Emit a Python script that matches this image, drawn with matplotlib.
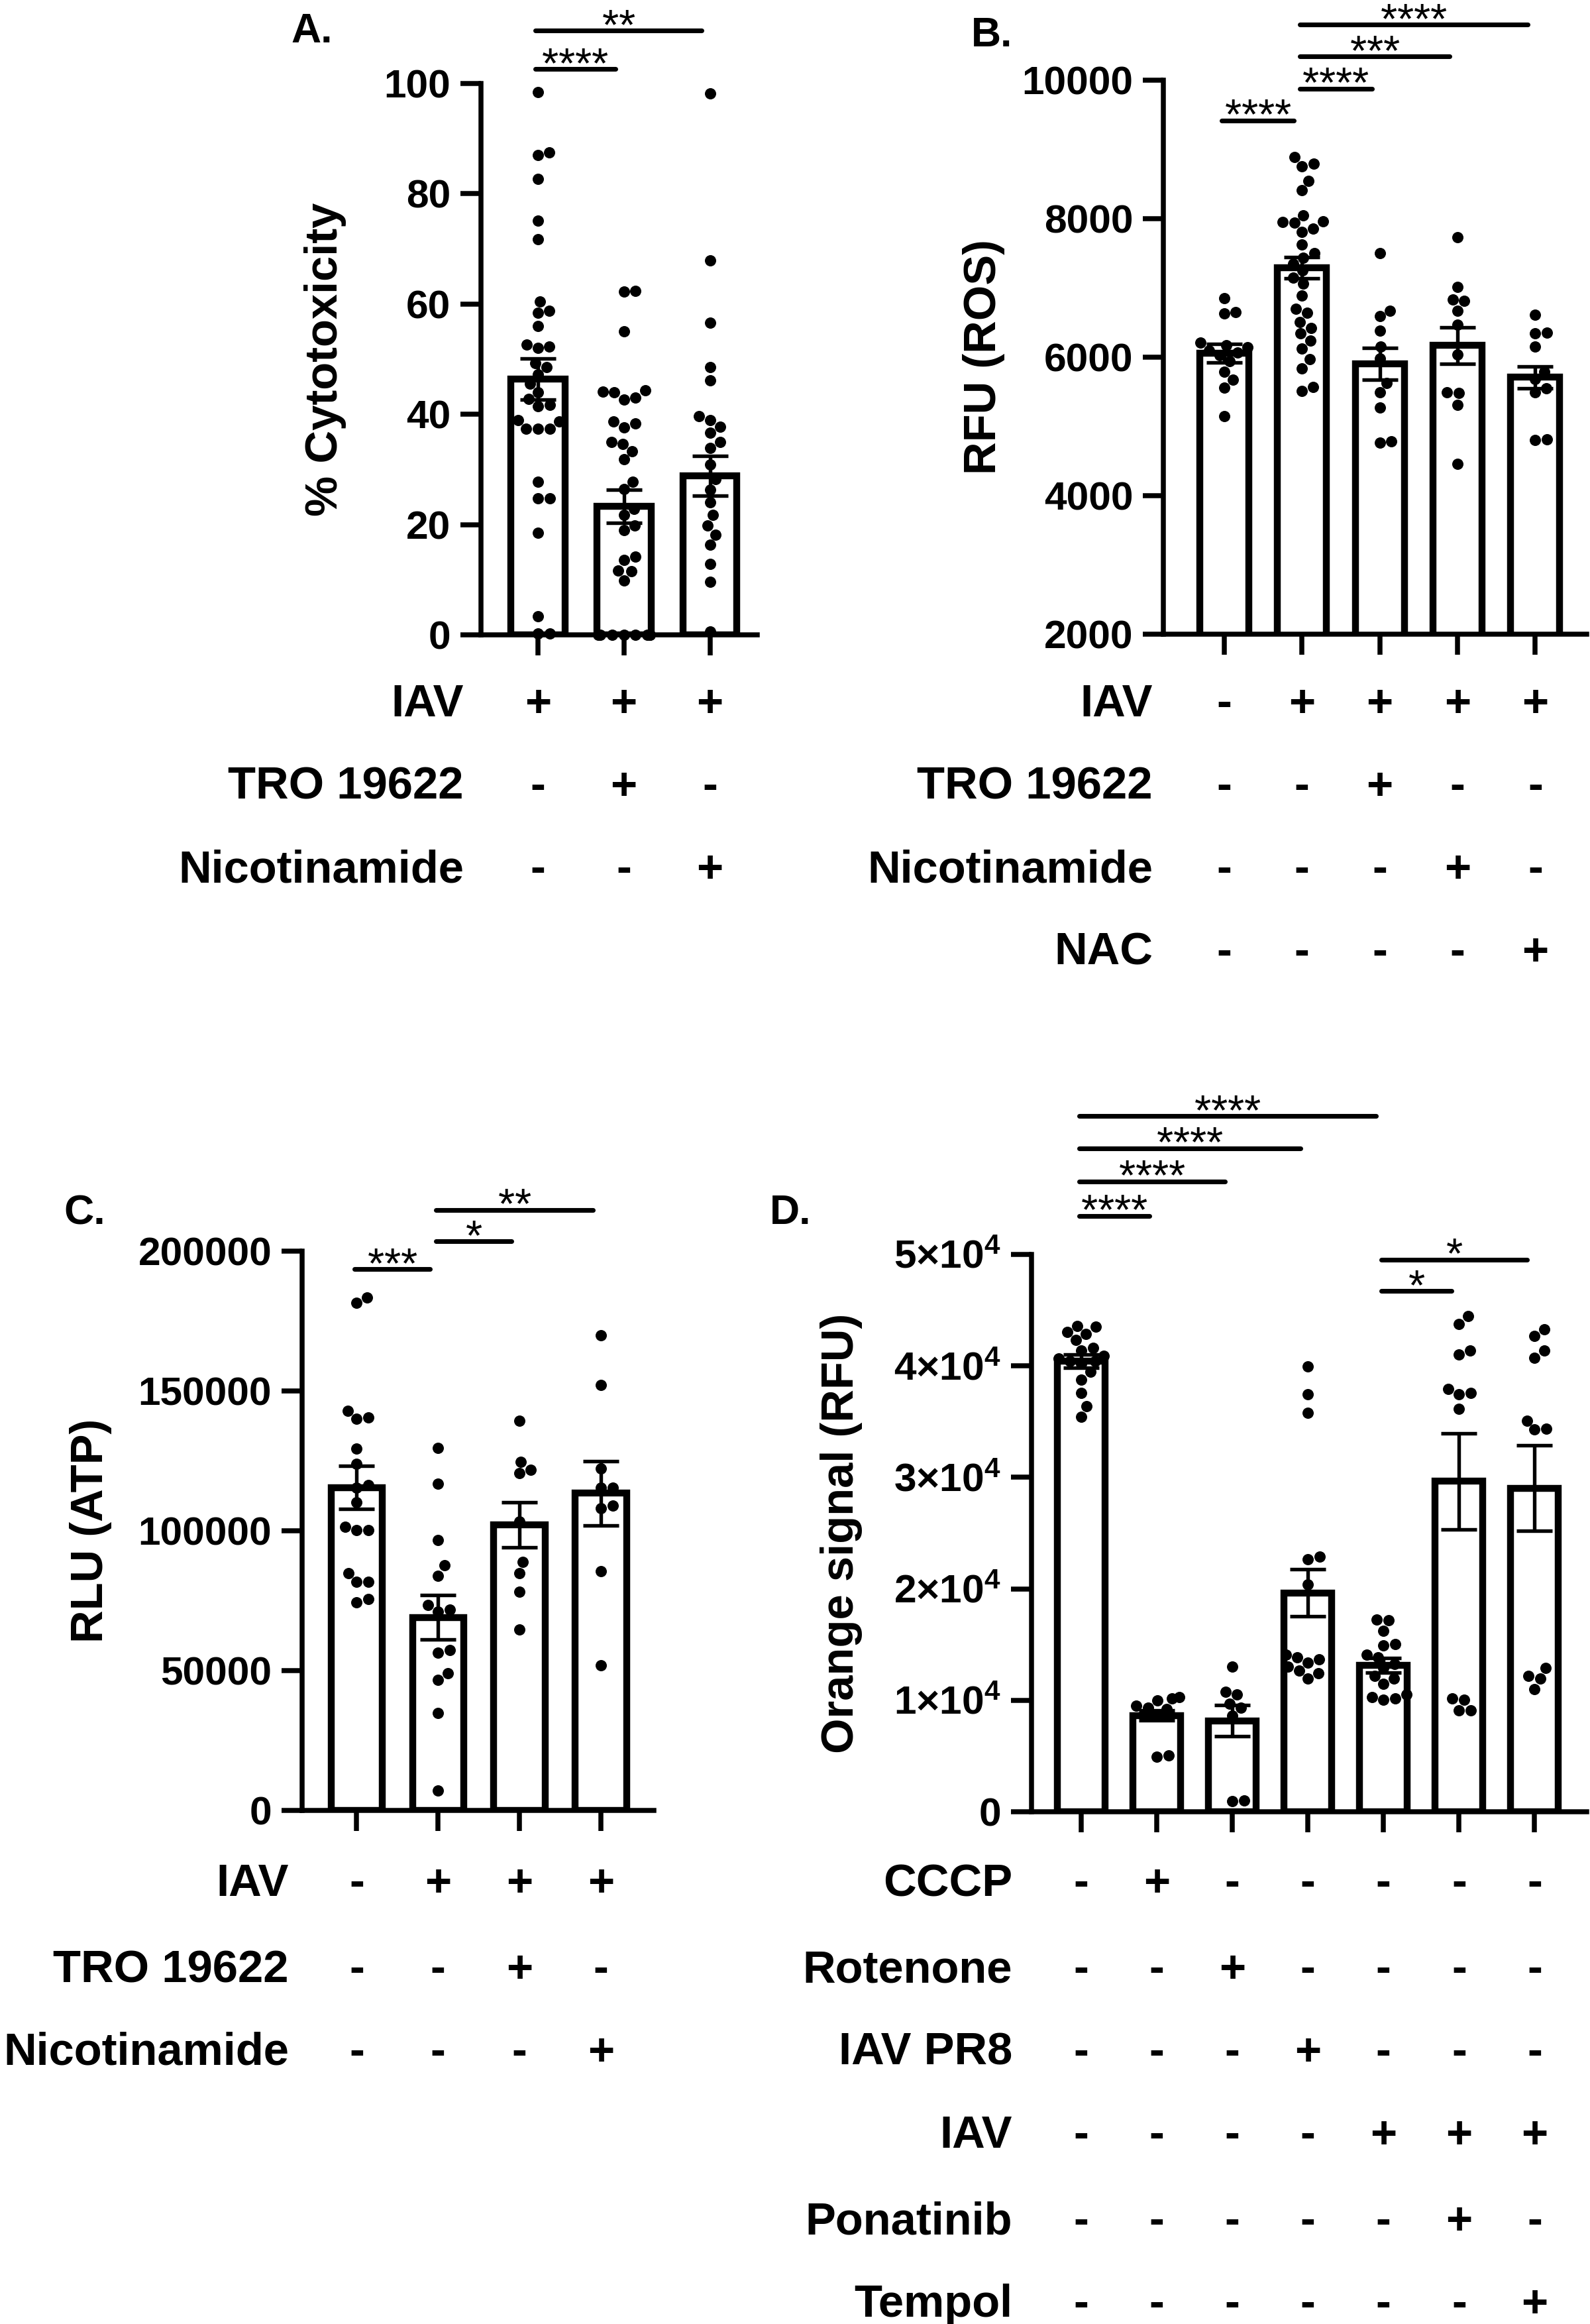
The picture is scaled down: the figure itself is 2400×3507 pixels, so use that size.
import numpy as np
import matplotlib.pyplot as plt
from matplotlib.transforms import blended_transform_factory

plt.rcParams['font.family'] = ['Liberation Sans', 'DejaVu Sans']
plt.rcParams['mathtext.fontset'] = 'custom'
plt.rcParams['mathtext.rm'] = 'Liberation Sans'
plt.rcParams['mathtext.bf'] = 'Liberation Sans:bold'

# ---------------- data ----------------
# A. % cytotoxicity
a_pts = [
    [98.4, 87.5, 87.0, 82.7, 75.1, 71.7, 60.5, 58.8, 58.4, 56.0, 52.6, 52.3, 52.0,
     49.3, 48.6, 47.2, 45.5, 44.0, 42.8, 41.7, 41.5, 39.0, 38.7, 37.4, 37.4, 37.4,
     27.8, 24.8, 24.7, 18.5, 3.4, 0.2, 0.2],
    [62.4, 62.2, 55.0, 44.3, 44.1, 44.0, 43.0, 42.7, 38.7, 38.3, 37.6, 35.0, 34.6,
     33.3, 31.8, 27.8, 26.4, 22.8, 21.8, 19.8, 19.0, 14.2, 13.6, 11.7, 11.5, 9.8,
     0, 0, 0, 0, 0, 0, 0, 0],
    [98.2, 67.9, 56.6, 48.5, 46.2, 39.7, 38.9, 37.7, 36.6, 35.0, 33.9, 30.9, 28.2,
     26.3, 24.0, 21.7, 19.8, 18.2, 16.3, 12.9, 9.6, 0.6],
]
a_mean = [46.4, 23.3, 28.8]
a_sem = [3.7, 3.0, 3.6]
a_sig = [(0, 1, 102.6, '****'), (0, 2, 109.6, '**')]
a_rows = ['IAV', 'TRO 19622', 'Nicotinamide']
a_signs = [['+', '+', '+'], ['-', '+', '-'], ['-', '-', '+']]

# B. RFU (ROS)
b_pts = [
    [6850, 6650, 6630, 6210, 6170, 6140, 6100, 6070, 6030, 5940, 5790, 5670, 5560, 5150],
    [8890, 8790, 8760, 8550, 8410, 8050, 7960, 7950, 7940, 7860, 7810, 7630, 7500,
     7440, 7350, 7250, 7150, 7060, 6890, 6700, 6640, 6510, 6420, 6340, 6240, 6120,
     5970, 5840, 5570, 5510],
    [7500, 6670, 6590, 6380, 6150, 5980, 5630, 5490, 5270, 4780, 4770],
    [7730, 7010, 6830, 6810, 6670, 6470, 6040, 5490, 5480, 5310, 4460],
    [6610, 6350, 6340, 6150, 5790, 5680, 5550, 5490, 4810, 4800],
]
b_mean = [6060, 7290, 5900, 6170, 5710]
b_sem = [135, 155, 230, 265, 160]
b_sig = [(0, 1, 9420, '****'), (1, 2, 9880, '****'), (1, 3, 10340, '***'),
         (1, 4, 10800, '****')]
b_rows = ['IAV', 'TRO 19622', 'Nicotinamide', 'NAC']
b_signs = [['-', '+', '+', '+', '+'], ['-', '-', '+', '-', '-'],
           ['-', '-', '-', '+', '-'], ['-', '-', '-', '-', '+']]

# C. RLU (ATP)
c_pts = [
    [183400, 181500, 143000, 140500, 140100, 129300, 123900, 116400, 115500, 110100,
     101400, 100200, 100200, 84800, 81800, 81800, 75600, 74500],
    [129700, 116900, 96800, 87600, 84000, 73500, 71800, 71200, 57400, 56500, 49000,
     46600, 34900, 7000],
    [139300, 124700, 121700, 120500, 103400, 88900, 84800, 78100, 64800],
    [169900, 152100, 122200, 115500, 115500, 108900, 108100, 85600, 51900],
]
c_mean = [115500, 69000, 102200, 113400]
c_sem = [7700, 7900, 8100, 11500]
c_sig = [(0, 1, 193500, '***'), (1, 2, 203500, '*'), (1, 3, 214800, '**')]
c_rows = ['IAV', 'TRO 19622', 'Nicotinamide']
c_signs = [['-', '+', '+', '+'], ['-', '-', '+', '-'], ['-', '-', '-', '+']]

# D. Orange signal (RFU)
d_pts = [
    [43600, 43500, 43030, 42880, 42310, 41600, 41370, 40890, 40650, 40420, 40420,
     40180, 39470, 38760, 37570, 36390, 35440],
    [10290, 10150, 10000, 9490, 9350, 9200, 8630, 5080, 4930],
    [13000, 10770, 10530, 9680, 9350, 8630, 1040, 950],
    [39940, 37480, 35820, 22870, 22630, 20400, 14090, 13850, 13700, 13380, 13000,
     12670, 12430, 11950],
    [17270, 17170, 16220, 15040, 14900, 14090, 13850, 13280, 12900, 12190, 11950,
     11480, 10530, 10290, 10150, 10060],
    [44450, 43740, 41370, 41030, 37950, 37570, 37480, 36150, 10150, 10060, 9110, 9110],
    [43260, 42700, 41370, 40750, 35100, 34350, 34300, 12900, 12190, 11950, 11010],
]
d_mean = [40420, 8630, 8160, 19640, 13140, 29650, 29030]
d_sem = [600, 450, 1400, 2100, 650, 4300, 3850]
d_sig = [(0, 1, 53460, '****'), (0, 2, 56550, '****'), (0, 3, 59540, '****'),
         (0, 4, 62400, '****'), (4, 5, 46730, '*'), (4, 6, 49530, '*')]
d_rows = ['CCCP', 'Rotenone', 'IAV PR8', 'IAV', 'Ponatinib', 'Tempol']
d_signs = [['-', '+', '-', '-', '-', '-', '-'], ['-', '-', '+', '-', '-', '-', '-'],
           ['-', '-', '-', '+', '-', '-', '-'], ['-', '-', '-', '-', '+', '+', '+'],
           ['-', '-', '-', '-', '-', '+', '-'], ['-', '-', '-', '-', '-', '-', '+']]

# ---------------- figure ----------------
W, H = 2400, 3507
fig = plt.figure(figsize=(W / 300, H / 300), dpi=300)

BAR_LW = 2.5
AX_LW = 1.8
DOT = 17.0  # dot diameter in px


def box(left, top, right, bottom):
    return [left / W, 1 - bottom / H, (right - left) / W, (bottom - top) / H]


def swarm(ax, xc, vals, lim):
    # simple beeswarm in pixel space
    ys = ax.transData.transform(np.column_stack([np.full(len(vals), xc), vals]))[:, 1]
    p = ax.transData.transform([(0, 0), (1, 0)])
    ppu = p[1, 0] - p[0, 0]
    d = DOT * 1.05
    placed = []
    offs = np.zeros(len(vals))
    for i in np.argsort(ys):
        y = ys[i]
        near = [(px, py) for px, py in placed if abs(py - y) < d]
        cands = [0.0]
        for px, py in near:
            dx = np.sqrt(d ** 2 - (py - y) ** 2)
            cands += [px + dx, px - dx]
        cands.sort(key=abs)
        best = cands[0]
        for c in cands:
            if all((c - px) ** 2 + (y - py) ** 2 >= d ** 2 - 1e-6 for px, py in near):
                best = c
                break
        best = max(-lim * ppu, min(lim * ppu, best))
        placed.append((best, y))
        offs[i] = best / ppu
    return offs


def stars(lab):
    # mathtext gives a tight box around the asterisks; braces stop operator spacing
    return '$' + ''.join('{*}' for _ in lab) + '$'


def panel(pos, xlim, ylim, yticks, ytl, pts, means, sems, sig, ylabel, ylab_x,
          letter, letter_xy, rows, signs, row_y, row_right):
    ax = fig.add_axes(box(*pos))
    n = len(means)
    x = np.arange(n)
    ax.set_xlim(*xlim)
    ax.set_ylim(*ylim)
    ax.bar(x, means, width=0.63, color='white', edgecolor='black', linewidth=BAR_LW,
           zorder=2)
    for i in range(n):
        off = swarm(ax, i, pts[i], 0.3)
        ax.scatter(i + off, pts[i], s=(DOT * 72 / 300) ** 2, color='black',
                   linewidths=0, zorder=3, clip_on=False)
    ax.errorbar(x, means, yerr=sems, fmt='none', ecolor='black', elinewidth=1.3,
                capsize=6.5, capthick=1.3, zorder=4)
    for s in ['top', 'right']:
        ax.spines[s].set_visible(False)
    for s in ['left', 'bottom']:
        ax.spines[s].set_linewidth(AX_LW)
    ax.set_xticks(x)
    ax.set_xticklabels([])
    ax.set_yticks(yticks)
    ax.set_yticklabels(ytl, fontsize=14.5, fontweight='bold')
    ax.tick_params(axis='both', width=AX_LW, length=7.5, direction='out')

    # significance lines
    for i, j, y, lab in sig:
        ax.plot([i - 0.03, j - 0.1], [y, y], color='black', lw=1.7, clip_on=False,
                solid_capstyle='round')
        ax.annotate(stars(lab), xy=((i + j - 0.13) / 2, y), xytext=(0, -2.8),
                    textcoords='offset points', ha='center', va='baseline',
                    fontsize=15.5, annotation_clip=False)

    # y label and panel letter
    yc = 1 - (pos[1] + pos[3]) / 2 / H
    fig.text(ylab_x / W, yc, ylabel, rotation=90, ha='center', va='center',
             fontsize=16.5, fontweight='bold')
    fig.text(letter_xy[0] / W, 1 - letter_xy[1] / H, letter, ha='left',
             va='center', fontsize=15, fontweight='bold')

    # treatment table
    tr = blended_transform_factory(ax.transData, fig.transFigure)
    for r, (name, sg) in enumerate(zip(rows, signs)):
        yy = 1 - row_y[r] / H
        fig.text(row_right / W, yy, name, ha='right', va='center_baseline',
                 fontsize=16.5, fontweight='bold')
        for k, ch in enumerate(sg):
            ax.text(k, yy, ch, transform=tr, ha='center', va='center_baseline',
                    fontsize=16.5, fontweight='bold')
    return ax


rows_top = [1056, 1181, 1306, 1431]
rows_bot = [2836, 2966, 3091, 3216, 3346, 3471]

panel((726, 126, 1143, 958), (-0.66, 2.55), (0, 100), range(0, 101, 20),
      [str(v) for v in range(0, 101, 20)], a_pts, a_mean, a_sem, a_sig,
      '% Cytotoxicity', 491, 'A.', (439, 48), a_rows, a_signs, rows_top, 700)

panel((1756, 121, 2395, 957), (-0.78, 4.66), (2000, 10000), range(2000, 10001, 2000),
      [str(v) for v in range(2000, 10001, 2000)], b_pts, b_mean, b_sem, b_sig,
      'RFU (ROS)', 1485, 'B.', (1466, 54), b_rows, b_signs, rows_top, 1740)

panel((456, 1888, 987, 2732), (-0.67, 3.65), (0, 200000), range(0, 200001, 50000),
      [str(v) for v in range(0, 200001, 50000)], c_pts, c_mean, c_sem, c_sig,
      'RLU (ATP)', 137, 'C.', (96, 1831), c_rows, c_signs, rows_bot, 436)

d_labels = ['0'] + [r'$\mathbf{%d{\times}10^{4}}$' % k for k in range(1, 6)]
panel((1557, 1893, 2395, 2734), (-0.66, 6.69), (0, 50000), range(0, 50001, 10000),
      d_labels, d_pts, d_mean, d_sem, d_sig,
      'Orange signal (RFU)', 1270, 'D.', (1162, 1831), d_rows, d_signs, rows_bot, 1528)

fig.savefig('out.png', dpi=300, facecolor='white')
